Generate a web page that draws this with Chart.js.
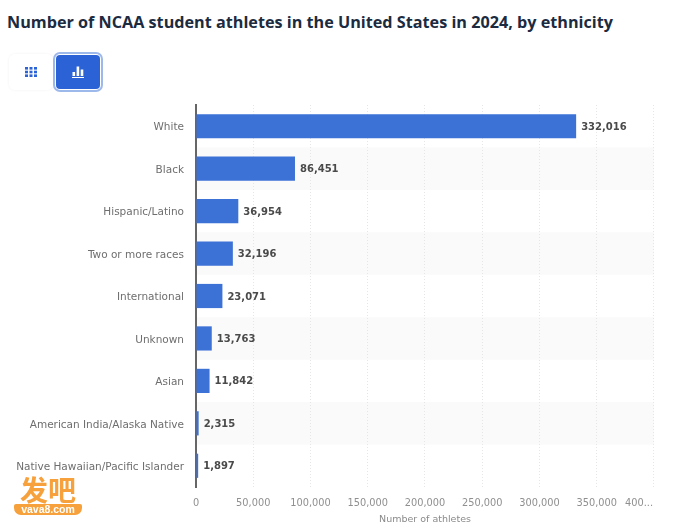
<!DOCTYPE html>
<html lang="en">
<head>
<meta charset="UTF-8">
<title>NCAA student athletes by ethnicity</title>
<script src="https://cdn.jsdelivr.net/npm/chart.js"></script>
<style>
  html, body { margin: 0; padding: 0; background: #fff; }
  body { width: 679px; height: 529px; position: relative; overflow: hidden; }
  h1 { position: absolute; left: 7px; top: 11px; margin: 0; font: 700 16.2px "Open Sans", sans-serif; color: #1c2b3f; white-space: nowrap; }
  canvas { position: absolute; left: 0; top: 0; }
  .btn { position: absolute; box-sizing: border-box; display: flex; align-items: center; justify-content: center; }
  .btn-table { left: 9px; top: 54px; width: 44px; height: 36px; background: #fff; border-radius: 6px; box-shadow: 0 0 3px rgba(0,0,0,.06); }
  .btn-bars { left: 56px; top: 55px; width: 44px; height: 34px; background: #2b62d6; border-radius: 4px; box-shadow: 0 0 0 1px #fff, 0 0 0 3px #9db8ea; }
  .mark { position: absolute; left: 14px; top: 474px; width: 68px; text-align: center; }
  .mark b { display: block; font: 700 28px/30px "Noto Sans CJK SC", sans-serif; color: #f6a13c; }
  .mark span { display: block; height: 11px; background: #f6a13c; border-radius: 2px 2px 7px 7px; font: 700 10.5px/11px "Liberation Sans", sans-serif; color: #fff; }
</style>
</head>
<body>
<h1>Number of NCAA student athletes in the United States in 2024, by ethnicity</h1>
<canvas id="chart" width="679" height="529"></canvas>
<div class="btn btn-table">
  <svg width="12" height="10" viewBox="0 0 12 10" fill="#2b62d6">
    <rect x="0" y="0" width="3" height="2.6"/><rect x="4.5" y="0" width="3" height="2.6"/><rect x="9" y="0" width="3" height="2.6"/>
    <rect x="0" y="3.7" width="3" height="2.6"/><rect x="4.5" y="3.7" width="3" height="2.6"/><rect x="9" y="3.7" width="3" height="2.6"/>
    <rect x="0" y="7.4" width="3" height="2.6"/><rect x="4.5" y="7.4" width="3" height="2.6"/><rect x="9" y="7.4" width="3" height="2.6"/>
  </svg>
</div>
<div class="btn btn-bars">
  <svg width="12" height="12" viewBox="0 0 12 12" fill="#fff">
    <rect x="0.5" y="6" width="2.6" height="4"/><rect x="4.6" y="0.5" width="2.6" height="9.5"/><rect x="8.7" y="3.5" width="2.6" height="6.5"/>
    <rect x="0" y="11" width="12" height="1"/>
  </svg>
</div>
<div class="mark"><b>发吧</b><span>vava8.com</span></div>
<script>
const categories = ['White', 'Black', 'Hispanic/Latino', 'Two or more races', 'International', 'Unknown', 'Asian', 'American India/Alaska Native', 'Native Hawaiian/Pacific Islander'];
const athletes = [332016, 86451, 36954, 32196, 23071, 13763, 11842, 2315, 1897];
const xTicks = [0, 50000, 100000, 150000, 200000, 250000, 300000, 350000, 400000];
const xMax = 400000;
const font = '"DejaVu Sans", sans-serif';

// light stripes behind every second row
const stripes = {
  id: 'stripes',
  beforeDraw(chart) {
    const { ctx, chartArea: a, scales: { y } } = chart;
    const h = y.getPixelForValue(1) - y.getPixelForValue(0);
    ctx.save();
    ctx.fillStyle = '#fafafa';
    categories.forEach((_, i) => {
      if (i % 2) ctx.fillRect(a.left, y.getPixelForValue(i) - h / 2, a.width, h);
    });
    ctx.restore();
  }
};

// nudge axis labels: category names sit a bit low, the cut off last tick ends at its gridline
const labelNudge = {
  id: 'labelNudge',
  beforeDraw(chart) {
    const { x, y } = chart.scales;
    y.getLabelItems().forEach(item => { item.options.translation[1] += 1.5; });
    const last = x.getLabelItems().at(-1);
    last.options.translation[0] -= 15;
  }
};

// value labels at the end of each bar
const barLabels = {
  id: 'barLabels',
  afterDatasetsDraw(chart) {
    const { ctx } = chart;
    ctx.save();
    ctx.font = 'bold 10px ' + font;
    ctx.fillStyle = '#4a4a4a';
    ctx.textBaseline = 'middle';
    chart.getDatasetMeta(0).data.forEach((bar, i) => {
      ctx.fillText(athletes[i].toLocaleString('en-US'), bar.x + 5, bar.y + 1);
    });
    ctx.restore();
  }
};

Chart.defaults.font.family = font;
Chart.defaults.font.size = 10.5;

new Chart(document.getElementById('chart'), {
  type: 'bar',
  data: {
    labels: categories,
    datasets: [{
      data: athletes,
      backgroundColor: '#3c71d6',
      barPercentage: 0.57,
      categoryPercentage: 1
    }]
  },
  options: {
    indexAxis: 'y',
    responsive: false,
    animation: false,
    layout: { padding: { top: 105, right: 24, bottom: 4, left: 0 } },
    plugins: { legend: { display: false }, tooltip: { enabled: false } },
    scales: {
      x: {
        min: 0,
        max: xMax,
        afterBuildTicks(axis) { axis.ticks = xTicks.map(value => ({ value })); },
        afterFit(axis) { axis.height = 38; },
        grid: { color: '#e6e6e6', lineWidth: 1, drawTicks: false },
        border: { display: false, dash: [1, 2] },
        ticks: {
          color: '#8f8f8f',
          padding: 11,
          maxRotation: 0,
          autoSkip: false,
          font: { size: 9.8 },
          callback: v => v === xMax ? '400...' : v.toLocaleString('en-US')
        },
        title: { display: true, text: 'Number of athletes', color: '#8a8a8a', padding: { top: 0, bottom: 0 }, font: { size: 9.5 } }
      },
      y: {
        afterFit(axis) { axis.width = 196; },
        grid: { display: false },
        border: { color: '#666666', width: 2 },
        ticks: { color: '#6e6e6e', padding: 4, autoSkip: false }
      }
    }
  },
  plugins: [stripes, labelNudge, barLabels]
});
</script>
</body>
</html>
